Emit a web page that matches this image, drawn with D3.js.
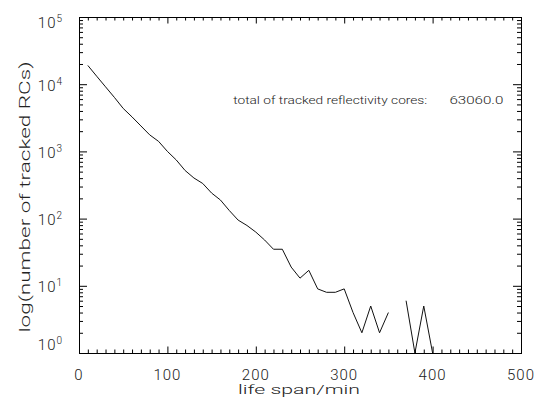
<!DOCTYPE html>
<html>
<head>
<meta charset="utf-8">
<script src="https://cdn.jsdelivr.net/npm/d3@7"></script>
<style>
  body { margin: 0; background: #fff; }
  text { font-family: Roboto, "DejaVu Sans", sans-serif; font-weight: 300; fill: #222; }
</style>
</head>
<body>
<div id="lifespan-chart"></div>
<script>
// life span of tracked RCs, every 10 min (0 = none tracked, gap in the line)
var lifeSpan = [10, 20, 30, 40, 50, 60, 70, 80, 90, 100,
                110, 120, 130, 140, 150, 160, 170, 180, 190, 200,
                210, 220, 230, 240, 250, 260, 270, 280, 290, 300,
                310, 320, 330, 340, 350, 360, 370, 380, 390, 400];
var rcCount = [19000, 13150, 9140, 6370, 4360, 3260, 2395, 1760, 1410, 1000,
               746, 520, 402, 333, 240, 189, 132, 95, 79, 63,
               48, 35, 35, 19, 13, 17, 9, 8, 8, 9,
               4, 2, 5, 2, 4, 0, 6, 1, 5, 1];
var xTickLabels = [0, 100, 200, 300, 400, 500];
var yTickLabels = [1, 10, 100, 1000, 10000, 100000];
var totalLabel = "total of tracked reflectivity cores:";
var totalValue = "63060.0";

// set the dimensions and margins of the graph
var LS_margin = {top: 17, right: 17, bottom: 52, left: 79},
    LS_width = 538 - LS_margin.left - LS_margin.right,
    LS_height = 405 - LS_margin.top - LS_margin.bottom;

var LS_x = d3.scaleLinear()
    .domain([0, 500])
    .range([0, LS_width]);

var LS_y = d3.scaleLog()
    .domain([1, 1e5])
    .range([LS_height, 0]);

var LS_svg = d3.select("#lifespan-chart").append("svg")
    .attr("width", 538)
    .attr("height", 405)
  .append("g")
    .attr("transform", "translate(" + LS_margin.left + "," + LS_margin.top + ")");

var data = lifeSpan.map(function(d, i) { return {t: d, n: rcCount[i]}; });

var isMajorY = function(v) { return Math.abs(Math.log10(v) - Math.round(Math.log10(v))) < 1e-9; };
var xMinor = d3.range(0, 501, 10).filter(function(d) { return d % 100 != 0; });
var yMinor = LS_y.ticks().filter(function(d) { return !isMajorY(d); });

// ticks on all four sides, pointing inwards
function tickAxes(g) {
  g.append("g").attr("transform", "translate(0," + LS_height + ")")
      .call(d3.axisBottom(LS_x).tickValues(xMinor).tickSize(-3.5).tickFormat(""));
  g.append("g").attr("transform", "translate(0," + LS_height + ")")
      .call(d3.axisBottom(LS_x).tickValues(xTickLabels).tickSize(-6.5).tickFormat(""));
  g.append("g")
      .call(d3.axisTop(LS_x).tickValues(xMinor).tickSize(-3.5).tickFormat(""));
  g.append("g")
      .call(d3.axisTop(LS_x).tickValues(xTickLabels).tickSize(-6.5).tickFormat(""));
  g.append("g")
      .call(d3.axisLeft(LS_y).tickValues(yMinor).tickSize(-4).tickFormat(""));
  g.append("g")
      .call(d3.axisLeft(LS_y).tickValues(yTickLabels).tickSize(-8).tickFormat(""));
  g.append("g").attr("transform", "translate(" + LS_width + ",0)")
      .call(d3.axisRight(LS_y).tickValues(yMinor).tickSize(-4).tickFormat(""));
  g.append("g").attr("transform", "translate(" + LS_width + ",0)")
      .call(d3.axisRight(LS_y).tickValues(yTickLabels).tickSize(-8).tickFormat(""));
  g.selectAll(".domain").attr("stroke", "#000").attr("stroke-width", 1);
  g.selectAll(".tick line").attr("stroke", "#000").attr("stroke-width", 1);
}
LS_svg.append("g").attr("class", "axis").call(tickAxes);

// x tick labels
LS_svg.append("g")
  .selectAll("text")
  .data(xTickLabels)
  .enter().append("text")
    .attr("x", function(d) { return LS_x(d); })
    .attr("y", LS_height + 26.5)
    .attr("text-anchor", "middle")
    .attr("font-size", 15)
    .attr("letter-spacing", 1)
    .text(function(d) { return d; });

// y tick labels, 10^k (end labels kept inside the frame like IDL does)
var yLab = LS_svg.append("g")
  .selectAll("text")
  .data(yTickLabels)
  .enter().append("text")
    .attr("x", -16)
    .attr("y", function(d) { return Math.min(Math.max(LS_y(d) + 6.5, 11), LS_height - 3); })
    .attr("text-anchor", "end")
    .attr("font-size", 15)
    .attr("letter-spacing", 1);
yLab.append("tspan").text("10");
yLab.append("tspan")
    .attr("dy", -6)
    .attr("font-size", 10)
    .text(function(d) { return Math.round(Math.log10(d)); });

// the line
var LS_line = d3.line()
    .defined(function(d) { return d.n > 0; })
    .x(function(d) { return LS_x(d.t); })
    .y(function(d) { return LS_y(d.n); });

LS_svg.append("path")
    .datum(data)
    .attr("fill", "none")
    .attr("stroke", "#111")
    .attr("stroke-width", 1)
    .attr("d", LS_line);

// axis titles
LS_svg.append("text")
    .attr("x", LS_x(250) - 1)
    .attr("y", LS_height + 41)
    .attr("text-anchor", "middle")
    .attr("font-size", 13)
    .attr("textLength", 122)
    .attr("lengthAdjust", "spacingAndGlyphs")
    .text("life span/min");

LS_svg.append("text")
    .attr("transform", "translate(" + (-49) + "," + (LS_height / 2 + 12) + ") rotate(-90)")
    .attr("text-anchor", "middle")
    .attr("font-size", 15)
    .attr("textLength", 271)
    .attr("lengthAdjust", "spacingAndGlyphs")
    .text("log(number of tracked RCs)");

// annotation
LS_svg.append("text")
    .attr("x", LS_x(175) - 0.5)
    .attr("y", 87)
    .attr("font-size", 11)
    .attr("textLength", 194)
    .attr("lengthAdjust", "spacingAndGlyphs")
    .text(totalLabel);

LS_svg.append("text")
    .attr("x", LS_x(419))
    .attr("y", 87)
    .attr("font-size", 11)
    .attr("textLength", 54)
    .attr("lengthAdjust", "spacingAndGlyphs")
    .text(totalValue);
</script>
</body>
</html>
